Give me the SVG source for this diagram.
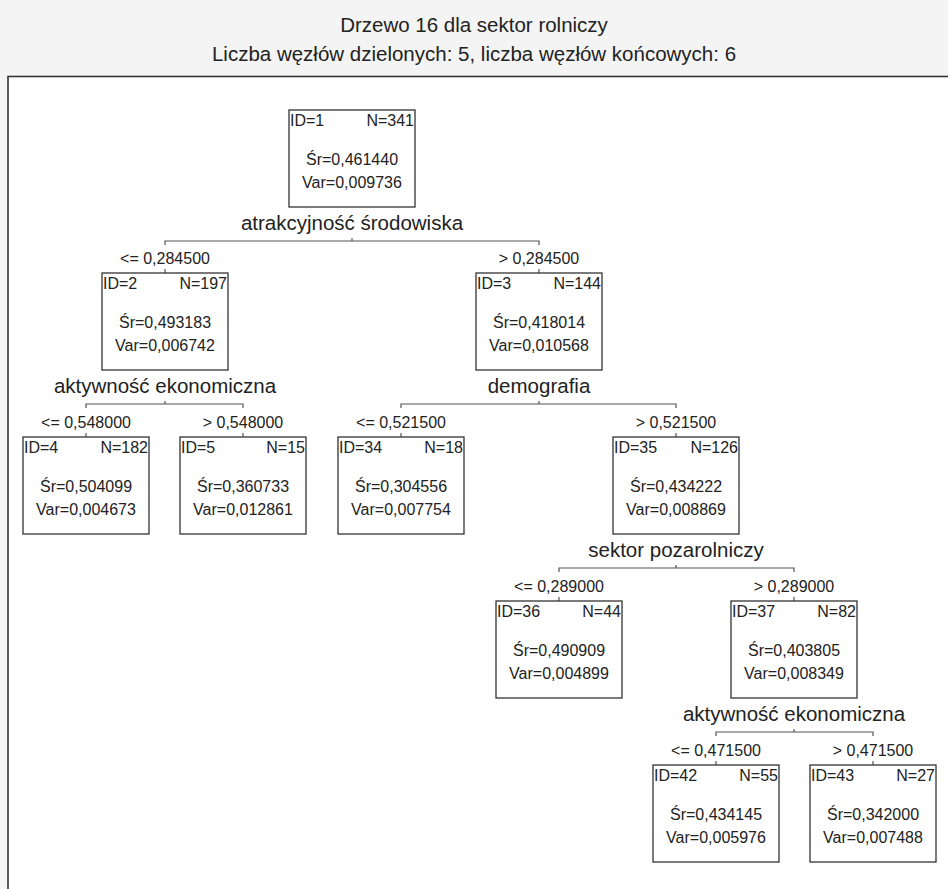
<svg xmlns="http://www.w3.org/2000/svg" width="948" height="889" viewBox="0 0 948 889">
<style>
text{font-family:"Liberation Sans",Arial,sans-serif;fill:#222}
.t{font-size:20.5px;text-anchor:middle}
.s{font-size:20.5px;text-anchor:middle}
.c{font-size:16px;text-anchor:middle}
.n{font-size:16px}
.m{font-size:16px;text-anchor:middle}
.r{text-anchor:end}
.box{fill:#fff;stroke:#333;stroke-width:1.3}
.ln{fill:none;stroke:#555;stroke-width:1.2}
</style>
<rect x="0" y="0" width="948" height="889" fill="#f4f4f4"/>
<rect x="8" y="76.5" width="950" height="820" fill="#fff" stroke="#333" stroke-width="1.6"/>
<g id="title">
<text class="t" x="474" y="32">Drzewo 16 dla sektor rolniczy</text>
<text class="t" x="474" y="61">Liczba węzłów dzielonych: 5, liczba węzłów końcowych: 6</text>
</g>
<g id="connectors">
<path class="ln" d="M165,245V241H539V245M352,241V238M165,269V273M539,269V273"/>
<path class="ln" d="M86,408V404H243V408M165,404V401M86,433V437M243,433V437"/>
<path class="ln" d="M401,408V404H676V408M539,404V401M401,433V437M676,433V437"/>
<path class="ln" d="M559,572V568H794V572M676,568V565M559,597V601M794,597V601"/>
<path class="ln" d="M716,736V732H873V736M794,732V729M716,761V765M873,761V765"/>
<text class="s" x="352" y="230">atrakcyjność środowiska</text>
<text class="c" x="165" y="264">&lt;= 0,284500</text>
<text class="c" x="539" y="264">&gt; 0,284500</text>
<text class="s" x="165" y="393">aktywność ekonomiczna</text>
<text class="c" x="86" y="428">&lt;= 0,548000</text>
<text class="c" x="243" y="428">&gt; 0,548000</text>
<text class="s" x="539" y="393">demografia</text>
<text class="c" x="401" y="428">&lt;= 0,521500</text>
<text class="c" x="676" y="428">&gt; 0,521500</text>
<text class="s" x="676" y="557">sektor pozarolniczy</text>
<text class="c" x="559" y="592">&lt;= 0,289000</text>
<text class="c" x="794" y="592">&gt; 0,289000</text>
<text class="s" x="794" y="721">aktywność ekonomiczna</text>
<text class="c" x="716" y="756">&lt;= 0,471500</text>
<text class="c" x="873" y="756">&gt; 0,471500</text>
</g>
<g id="node1"><rect class="box" x="289" y="110" width="126" height="97"/><text class="n" x="290" y="126">ID=1</text><text class="n r" x="414" y="126">N=341</text><text class="m" x="352" y="165">Śr=0,461440</text><text class="m" x="352" y="188">Var=0,009736</text></g>
<g id="node2"><rect class="box" x="102" y="273" width="126" height="97"/><text class="n" x="103" y="289">ID=2</text><text class="n r" x="227" y="289">N=197</text><text class="m" x="165" y="328">Śr=0,493183</text><text class="m" x="165" y="351">Var=0,006742</text></g>
<g id="node3"><rect class="box" x="476" y="273" width="126" height="97"/><text class="n" x="477" y="289">ID=3</text><text class="n r" x="601" y="289">N=144</text><text class="m" x="539" y="328">Śr=0,418014</text><text class="m" x="539" y="351">Var=0,010568</text></g>
<g id="node4"><rect class="box" x="23" y="437" width="126" height="97"/><text class="n" x="24" y="453">ID=4</text><text class="n r" x="148" y="453">N=182</text><text class="m" x="86" y="492">Śr=0,504099</text><text class="m" x="86" y="515">Var=0,004673</text></g>
<g id="node5"><rect class="box" x="180" y="437" width="126" height="97"/><text class="n" x="181" y="453">ID=5</text><text class="n r" x="305" y="453">N=15</text><text class="m" x="243" y="492">Śr=0,360733</text><text class="m" x="243" y="515">Var=0,012861</text></g>
<g id="node34"><rect class="box" x="338" y="437" width="126" height="97"/><text class="n" x="339" y="453">ID=34</text><text class="n r" x="463" y="453">N=18</text><text class="m" x="401" y="492">Śr=0,304556</text><text class="m" x="401" y="515">Var=0,007754</text></g>
<g id="node35"><rect class="box" x="613" y="437" width="126" height="97"/><text class="n" x="614" y="453">ID=35</text><text class="n r" x="738" y="453">N=126</text><text class="m" x="676" y="492">Śr=0,434222</text><text class="m" x="676" y="515">Var=0,008869</text></g>
<g id="node36"><rect class="box" x="496" y="601" width="126" height="97"/><text class="n" x="497" y="617">ID=36</text><text class="n r" x="621" y="617">N=44</text><text class="m" x="559" y="656">Śr=0,490909</text><text class="m" x="559" y="679">Var=0,004899</text></g>
<g id="node37"><rect class="box" x="731" y="601" width="126" height="97"/><text class="n" x="732" y="617">ID=37</text><text class="n r" x="856" y="617">N=82</text><text class="m" x="794" y="656">Śr=0,403805</text><text class="m" x="794" y="679">Var=0,008349</text></g>
<g id="node42"><rect class="box" x="653" y="765" width="126" height="97"/><text class="n" x="654" y="781">ID=42</text><text class="n r" x="778" y="781">N=55</text><text class="m" x="716" y="820">Śr=0,434145</text><text class="m" x="716" y="843">Var=0,005976</text></g>
<g id="node43"><rect class="box" x="810" y="765" width="126" height="97"/><text class="n" x="811" y="781">ID=43</text><text class="n r" x="935" y="781">N=27</text><text class="m" x="873" y="820">Śr=0,342000</text><text class="m" x="873" y="843">Var=0,007488</text></g>
</svg>
